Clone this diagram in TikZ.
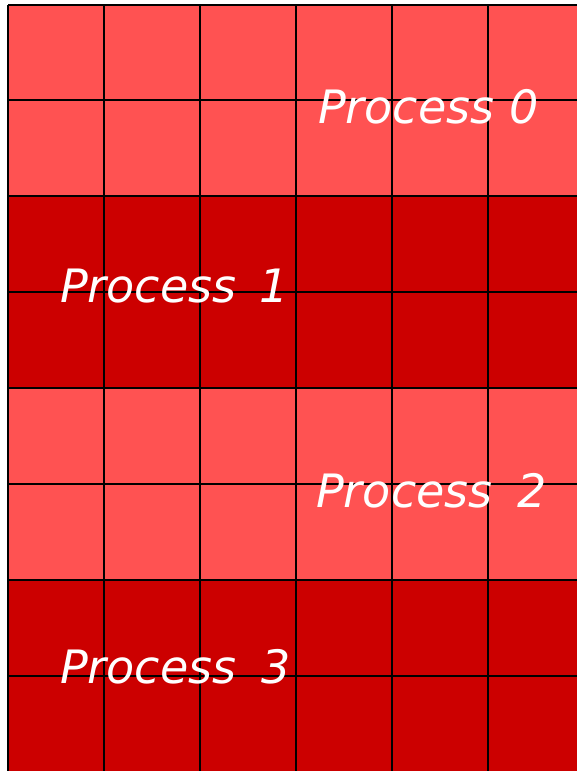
\documentclass[tikz,border=0pt]{standalone}
\usepackage{fontspec}
\setmainfont{DejaVu Sans}
\definecolor{lightred}{RGB}{255,82,82}
\definecolor{darkred}{RGB}{204,0,0}
\begin{document}
\begin{tikzpicture}[x=1pt,y=-1pt,
  proc/.style={anchor=base west, inner sep=0pt, text=white, font=\fontsize{46}{50}\selectfont\itshape},
  gridline/.style={black, line width=2pt}]
\useasboundingbox (0,0) rectangle (577,771);
\fill[white] (0,0) rectangle (577,771);
\fill[lightred] (8,5) rectangle (590,196);
\fill[darkred] (8,196) rectangle (590,388);
\fill[lightred] (8,388) rectangle (590,580);
\fill[darkred] (8,580) rectangle (590,780);
\foreach \x in {8,104,200,296,392,488} {\draw[gridline] (\x,5) -- (\x,780);}
\foreach \y in {5,100,196,292,388,484,580,676} {\draw[gridline] (8,\y) -- (590,\y);}
\node[proc] (p0) at (318,123) {Process 0};
\node[proc] (p1) at (60,302) {Process\hspace{8pt} 1};
\node[proc] (p2) at (316,507) {Process\hspace{10pt} 2};
\node[proc] (p3) at (60,683) {Process\hspace{10pt} 3};
\end{tikzpicture}
\end{document}
